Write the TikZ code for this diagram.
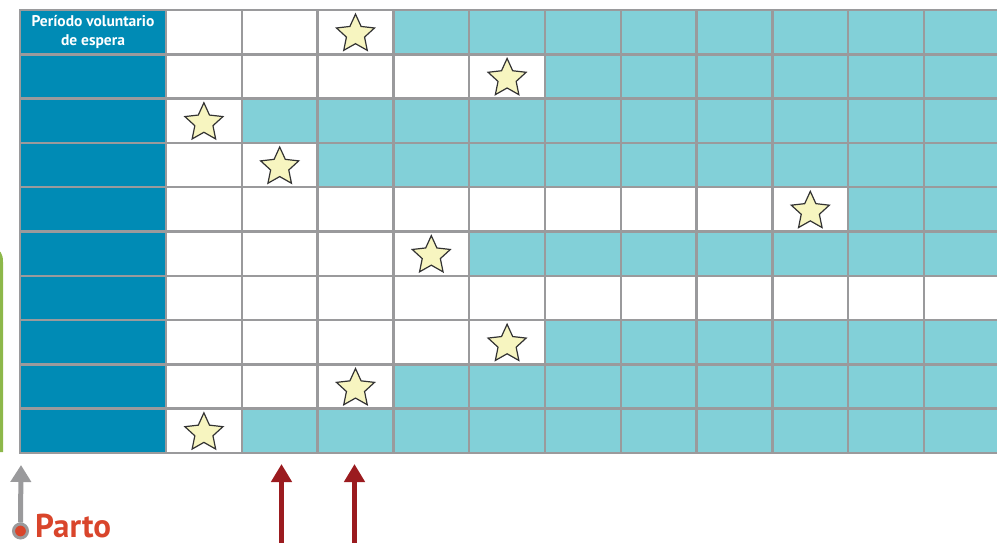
\documentclass[tikz,border=0pt]{standalone}
\usepackage{fontspec}
\setmainfont{PT Sans}
\usetikzlibrary{shapes.geometric,arrows.meta}
\definecolor{dblue}{HTML}{008BB5}
\definecolor{tealc}{HTML}{82D0D8}
\definecolor{gridg}{HTML}{9A9A9C}
\definecolor{staryel}{HTML}{F7F5C0}
\definecolor{partored}{HTML}{D9452B}
\definecolor{arrred}{HTML}{9B1B1F}
\definecolor{bracegreen}{HTML}{8DB84A}
\tikzset{
  cellbox/.style={draw=gridg, line width=2.5pt, anchor=north west, inner sep=0, outer sep=0, minimum height=44.3pt},
  starmark/.style={star, star points=5, star point ratio=2.1, fill=staryel, draw=black!80, line width=1.2pt, minimum size=40pt, inner sep=0, yshift=-2pt},
  redarrow/.style={arrred, line width=5.5pt, -{Triangle[width=20pt,length=18pt]}},
  grayarrow/.style={gridg, line width=5pt, -{Triangle[width=20pt,length=17pt]}}
}
\begin{document}
\begin{tikzpicture}[x=1pt,y=-1pt]
\useasboundingbox (0,0) rectangle (997,542);
\clip (0,0) rectangle (997,542);
% first column
\foreach \r in {0,...,9}{
  \node[cellbox, fill=dblue, minimum width=146pt] (c-\r-0) at (20,{10+\r*44.3}) {};
}
% grid cells
\foreach \r/\s in {0/3,1/5,2/1,3/2,4/9,5/4,6/99,7/5,8/3,9/1}{
  \foreach \c in {1,...,11}{
    \ifnum\c>\s
      \node[cellbox, fill=tealc, minimum width=75.8pt] (c-\r-\c) at ({166+(\c-1)*75.8},{10+\r*44.3}) {};
    \else
      \node[cellbox, fill=white, minimum width=75.8pt] (c-\r-\c) at ({166+(\c-1)*75.8},{10+\r*44.3}) {};
    \fi
  }
  \ifnum\s<12
    \node[starmark] (s-\r) at (c-\r-\s) {};
  \fi
}
\node[text=white, font=\bfseries\fontsize{15.5}{19.5}\selectfont, align=center] (hdr) at (c-0-0) {Período voluntario\\de espera};
% green bracket
\draw[bracegreen, line width=3pt] (1.5,452) -- (1.5,262) .. controls (1.5,254) and (-1,251) .. (-6,250);
% parto
\node[circle, fill=partored, draw=gridg, line width=3pt, minimum size=14pt, inner sep=0] (dot) at (20.5,531) {};
\coordinate (gtip) at (21,465);
\draw[grayarrow] (dot.north) -- (gtip);
\node[text=partored, font=\bfseries\fontsize{33}{38}\selectfont, anchor=base west, inner sep=0] (parto) at (35,537) {Parto};
% red arrows
\coordinate (r1b) at (281.5,545);
\coordinate (r1t) at (281.5,464);
\coordinate (r2b) at (354.5,545);
\coordinate (r2t) at (354.5,464);
\draw[redarrow] (r1b) -- (r1t);
\draw[redarrow] (r2b) -- (r2t);
\end{tikzpicture}
\end{document}
